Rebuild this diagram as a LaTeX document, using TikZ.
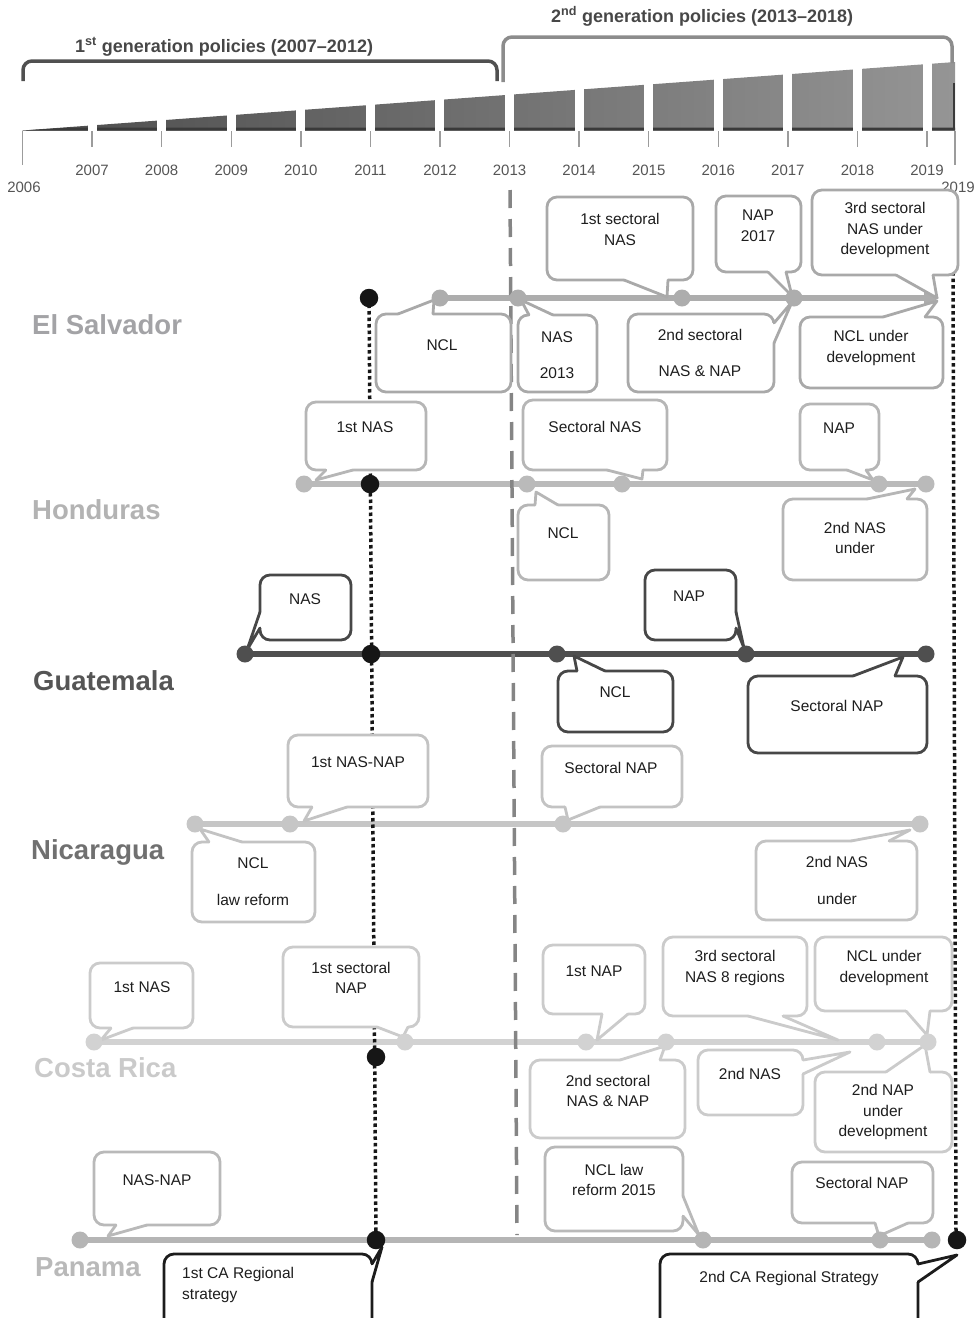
\documentclass[tikz,border=0pt]{standalone}
\usepackage{fontspec}
\setmainfont{Liberation Sans}
\usetikzlibrary{fit,calc,arrows.meta}

\definecolor{txt}{HTML}{1E1E1E}
\definecolor{yeargray}{HTML}{555555}
\definecolor{tickgray}{HTML}{9C9C9C}
\definecolor{braceA}{HTML}{505050}
\definecolor{braceB}{HTML}{8C8C8C}
\definecolor{hdrA}{HTML}{474747}
\definecolor{ribA}{HTML}{4C4C4C}
\definecolor{ribM}{HTML}{707070}
\definecolor{ribB}{HTML}{959595}
\definecolor{ribEdge}{HTML}{3A3A3A}
\definecolor{dashgray}{HTML}{858585}
\definecolor{kcol}{HTML}{161616}
% per-country colours: line, bubble border, label
\definecolor{lnES}{HTML}{ADADAD}\definecolor{bES}{HTML}{A9A9A9}\definecolor{cES}{HTML}{A3A3A6}
\definecolor{lnHN}{HTML}{BABABA}\definecolor{bHN}{HTML}{B6B6B6}\definecolor{cHN}{HTML}{B3B3B3}
\definecolor{lnGT}{HTML}{4F4F4F}\definecolor{bGT}{HTML}{474747}\definecolor{cGT}{HTML}{555555}
\definecolor{lnNI}{HTML}{C6C6C6}\definecolor{bNI}{HTML}{C3C3C3}\definecolor{cNI}{HTML}{707070}
\definecolor{lnCR}{HTML}{D2D2D2}\definecolor{bCR}{HTML}{CBCBCB}\definecolor{cCR}{HTML}{CACACA}
\definecolor{lnPA}{HTML}{B5B5B5}\definecolor{bPA}{HTML}{B9B9B9}\definecolor{cPA}{HTML}{B9B9B9}
\definecolor{bCA}{HTML}{1C1C1C}

\tikzset{
  bx/.style={draw=#1, fill=white, line width=2.8pt, rounded corners=10pt, inner sep=0pt, rectangle},
  tailln/.style={draw=#1, line width=2.8pt, line join=round, line cap=round},
  tx/.style={align=center, text=txt, inner sep=0pt, font=\fontsize{15.5}{20.5}\selectfont},
  tline/.style={draw=#1, line width=6pt},
  evt/.style={circle, fill=#1, inner sep=0pt, minimum size=17pt},
  kevt/.style={circle, fill=kcol, inner sep=0pt, minimum size=18.5pt},
  ctry/.style={anchor=base west, inner sep=0pt, text=#1, font=\fontsize{27.5}{30}\selectfont\bfseries},
  yr/.style={text=yeargray, inner sep=0pt, font=\fontsize{15}{18}\selectfont},
  hdr/.style={anchor=base west, inner sep=0pt, text=#1, font=\fontsize{18}{22}\selectfont\bfseries},
  kdot/.style={draw=kcol, line width=3.5pt, dash pattern=on 3.5pt off 3pt},
  dsh/.style={draw=dashgray, line width=3.5pt, dash pattern=on 18pt off 11pt},
}

% speech-bubble tail: colour, base point A, tip, base point B, inward offset
\newcommand{\bubtail}[5]{%
  \fill[white] ($#2+#5$) -- #2 -- #3 -- #4 -- ($#4+#5$) -- cycle;
  \draw[tailln=#1] #2 -- #3 -- #4;}

\begin{document}
\begin{tikzpicture}[x=1pt,y=-1pt]
\useasboundingbox (0,0) rectangle (976,1318);

% ---------------- time axis ----------------
\shade[left color=ribA, middle color=ribM, right color=ribB]
  (22.5,130.5) -- (955,62) -- (955,130.5) -- cycle;
\fill[ribEdge] (22.5,130.5) -- (70,127.6) -- (955,127.6) -- (955,130.5) -- cycle;
\draw[ribEdge, line width=2pt] (954,83) -- (954,130);
\foreach \i in {1,...,13}{
  \pgfmathsetmacro{\xx}{22.5+69.58*\i}
  \pgfmathtruncatemacro{\yy}{2006+\i}
  \fill[white] (\xx-4.5,50) rectangle (\xx+4.5,131);
  \draw[tickgray, line width=1.4pt] (\xx,131) -- (\xx,147);
  \node[yr] (yr\i) at (\xx,170.5) {\yy};
}
\draw[tickgray, line width=1.4pt] (22.5,131) -- (22.5,165);
\draw[tickgray, line width=1.4pt] (955,131) -- (955,165);
\node[yr] (yr0) at (24,187.5) {2006};
\node[yr] (yrEnd) at (958,187.5) {2019};

% generation brackets
\draw[braceA, line width=3.5pt, rounded corners=9pt] (23,81) -- (23,61) -- (497,61) -- (497,81);
\draw[braceB, line width=3.5pt, rounded corners=9pt] (503,82) -- (503,37) -- (952,37) -- (952,63);
\node[hdr=hdrA] (gen1) at (75,52) {1\textsuperscript{st} generation policies (2007–2012)};
\node[hdr=hdrA] (gen2) at (551,22) {2\textsuperscript{nd} generation policies (2013–2018)};

% ---------------- country labels ----------------
\node[ctry=cES] (lES) at (32,334) {El Salvador};
\node[ctry=cHN] (lHN) at (32,519) {Honduras};
\node[ctry=cGT] (lGT) at (33,690) {Guatemala};
\node[ctry=cNI] (lNI) at (31,859) {Nicaragua};
\node[ctry=cCR] (lCR) at (34,1077) {Costa Rica};
\node[ctry=cPA] (lPA) at (35,1276) {Panama};

% ---------------- event positions ----------------
\coordinate (esK) at (369,298);
\coordinate (es1) at (440,298); \coordinate (es2) at (518,298);
\coordinate (es3) at (682,298); \coordinate (es4) at (794,298);
\coordinate (esE) at (939,298);
\coordinate (hn1) at (304,484); \coordinate (hnK) at (370,484);
\coordinate (hn2) at (527,484); \coordinate (hn3) at (622,484);
\coordinate (hn4) at (879,484); \coordinate (hn5) at (926,484);
\coordinate (gt1) at (245,654); \coordinate (gtK) at (371,654);
\coordinate (gt2) at (557,654); \coordinate (gt3) at (746,654);
\coordinate (gt4) at (926,654);
\coordinate (ni1) at (195,824); \coordinate (ni2) at (290,824);
\coordinate (ni3) at (563,824); \coordinate (ni4) at (920,824);
\coordinate (cr1) at (94,1042); \coordinate (cr2) at (405,1042);
\coordinate (cr3) at (586,1042); \coordinate (cr4) at (666,1042);
\coordinate (cr5) at (877,1042); \coordinate (cr6) at (928,1042);
\coordinate (crK) at (376,1057);
\coordinate (pa1) at (80,1240); \coordinate (paK) at (376,1240);
\coordinate (pa2) at (703,1240); \coordinate (pa3) at (880,1240);
\coordinate (pa4) at (932,1240); \coordinate (paK2) at (957,1240);
\coordinate (dTop) at (510,190); \coordinate (dBot) at (517,1235);
\coordinate (rTop) at (953,272); \coordinate (rBot) at (956,1232);

% ---------------- timelines ----------------
\draw[tline=lnES, -{Triangle[length=15pt,width=17pt]}] (es1) -- (esE);
\draw[tline=lnHN] (hn1) -- (hn5);
\draw[tline=lnGT] (gt1) -- (gt4);
\draw[tline=lnNI] (ni1) -- (ni4);
\draw[tline=lnCR] (cr1) -- (cr6);
\draw[tline=lnPA] (pa1) -- (pa4);

% period divider and regional-strategy links
\draw[dsh] (dTop) -- (dBot);
\draw[kdot] (esK) -- (paK);
\draw[kdot] (rTop) -- (rBot);

% ---------------- El Salvador ----------------
\node[bx=bES, fit={(547,197) (693,280)}] (esB1) {};
\bubtail{bES}{(624,280)}{(667,297)}{(668,280)}{(0,-4)}
\node[tx] (esT1) at (620,229.5) {1st sectoral\\NAS};
\node[bx=bES, fit={(716,196) (801,272)}] (esB2) {};
\bubtail{bES}{(768,272)}{(792,296)}{(786,272)}{(0,-4)}
\node[tx] (esT2) at (758,225.5) {NAP\\2017};
\node[bx=bES, fit={(812,190) (958,275)}] (esB3) {};
\bubtail{bES}{(896,275)}{(937,298)}{(933,275)}{(0,-4)}
\node[tx] (esT3) at (885,230) {3rd sectoral\\NAS under\\development};
\node[bx=bES, fit={(376,314) (511,392)}] (esB4) {};
\bubtail{bES}{(398,314)}{(434,300)}{(433,314)}{(0,4)}
\node[tx] (esT4) at (442,345) {NCL};
\node[bx=bES, fit={(518,315) (597,392)}] (esB5) {};
\bubtail{bES}{(529,315)}{(521,300)}{(553,315)}{(0,4)}
\node[tx] (esT5) at (557,355) {NAS\\[16pt]2013};
\node[bx=bES, fit={(628,314) (774,392)}] (esB6) {};
\bubtail{bES}{(774,323)}{(792,302)}{(774,343)}{(-4,0)}
\node[tx] (esT6) at (700,352.5) {2nd sectoral\\[15.5pt]NAS \& NAP};
\node[bx=bES, fit={(800,317) (943,388)}] (esB7) {};
\bubtail{bES}{(883,317)}{(937,301)}{(925,317)}{(0,4)}
\node[tx] (esT7) at (871,348) {NCL under\\development};

% ---------------- Honduras ----------------
\node[bx=bHN, fit={(306,402) (426,470)}] (hnB1) {};
\bubtail{bHN}{(326,470)}{(316,480)}{(353,470)}{(0,-4)}
\node[tx] (hnT1) at (365,427) {1st NAS};
\node[bx=bHN, fit={(523,400) (667,470)}] (hnB2) {};
\bubtail{bHN}{(607,470)}{(642,479)}{(643,470)}{(0,-4)}
\node[tx] (hnT2) at (595,427) {Sectoral NAS};
\node[bx=bHN, fit={(800,404) (879,470)}] (hnB3) {};
\bubtail{bHN}{(847,470)}{(873,480)}{(866,470)}{(0,-4)}
\node[tx] (hnT3) at (839,428) {NAP};
\node[bx=bHN, fit={(518,505) (609,580)}] (hnB4) {};
\bubtail{bHN}{(535,505)}{(536,492)}{(558,505)}{(0,4)}
\node[tx] (hnT4) at (563,533) {NCL};
\node[bx=bHN, fit={(783,499) (927,580)}] (hnB5) {};
\bubtail{bHN}{(867,499)}{(915,489)}{(907,499)}{(0,4)}
\node[tx] (hnT5) at (855,538) {2nd NAS\\under};

% ---------------- Guatemala ----------------
\node[bx=bGT, fit={(260,575) (351,640)}] (gtB1) {};
\bubtail{bGT}{(260,612)}{(247,650)}{(260,628)}{(4,0)}
\node[tx] (gtT1) at (305,599) {NAS};
\node[bx=bGT, fit={(645,570) (736,640)}] (gtB2) {};
\bubtail{bGT}{(736,612)}{(744,648)}{(736,628)}{(-4,0)}
\node[tx] (gtT2) at (689,596) {NAP};
\node[bx=bGT, fit={(558,671) (673,732)}] (gtB3) {};
\bubtail{bGT}{(577,671)}{(574,656)}{(605,671)}{(0,4)}
\node[tx] (gtT3) at (615,692) {NCL};
\node[bx=bGT, fit={(748,676) (927,753)}] (gtB4) {};
\bubtail{bGT}{(853,676)}{(903,657)}{(895,676)}{(0,4)}
\node[tx] (gtT4) at (837,706) {Sectoral NAP};

% ---------------- Nicaragua ----------------
\node[bx=bNI, fit={(288,735) (428,807)}] (niB1) {};
\bubtail{bNI}{(312,807)}{(304,821)}{(347,807)}{(0,-4)}
\node[tx] (niT1) at (358,762) {1st NAS-NAP};
\node[bx=bNI, fit={(542,746) (682,807)}] (niB2) {};
\bubtail{bNI}{(565,807)}{(568,820)}{(600,807)}{(0,-4)}
\node[tx] (niT2) at (611,768) {Sectoral NAP};
\node[bx=bNI, fit={(192,842) (315,922)}] (niB3) {};
\bubtail{bNI}{(209,842)}{(200,829)}{(242,842)}{(0,4)}
\node[tx] (niT3) at (253,882) {NCL\\[16.5pt]law reform};
\node[bx=bNI, fit={(756,841) (917,920)}] (niB4) {};
\bubtail{bNI}{(851,841)}{(910,830)}{(889,841)}{(0,4)}
\node[tx] (niT4) at (837,880) {2nd NAS\\[16.5pt]under};

% ---------------- Costa Rica ----------------
\node[bx=bCR, fit={(90,963) (193,1028)}] (crB1) {};
\bubtail{bCR}{(111,1028)}{(101,1040)}{(133,1028)}{(0,-4)}
\node[tx] (crT1) at (142,987) {1st NAS};
\node[bx=bCR, fit={(283,947) (419,1027)}] (crB2) {};
\bubtail{bCR}{(377,1027)}{(403,1037)}{(408,1027)}{(0,-4)}
\node[tx] (crT2) at (351,978) {1st sectoral\\NAP};
\node[bx=bCR, fit={(543,945) (645,1014)}] (crB3) {};
\bubtail{bCR}{(602,1014)}{(597,1040)}{(628,1014)}{(0,-4)}
\node[tx] (crT3) at (594,971) {1st NAP};
\node[bx=bCR, fit={(663,937) (807,1016)}] (crB4) {};
\bubtail{bCR}{(748,1016)}{(838,1040)}{(783,1016)}{(0,-4)}
\node[tx] (crT4) at (735,968) {3rd sectoral\\NAS 8 regions};
\node[bx=bCR, fit={(815,937) (952,1011)}] (crB5) {};
\bubtail{bCR}{(906,1011)}{(927,1035)}{(930,1011)}{(0,-4)}
\node[tx] (crT5) at (884,968) {NCL under\\development};
\node[bx=bCR, fit={(530,1060) (685,1138)}] (crB6) {};
\bubtail{bCR}{(620,1060)}{(665,1046)}{(660,1060)}{(0,4)}
\node[tx] (crT6) at (608,1091) {2nd sectoral\\NAS \& NAP};
\node[bx=bCR, fit={(698,1050) (803,1115)}] (crB7) {};
\bubtail{bCR}{(803,1060)}{(850,1052)}{(803,1074)}{(-4,0)}
\node[tx] (crT7) at (750,1074) {2nd NAS};
\node[bx=bCR, fit={(815,1072) (952,1152)}] (crB8) {};
\bubtail{bCR}{(886,1072)}{(925,1045)}{(930,1072)}{(0,4)}
\node[tx] (crT8) at (883,1112) {2nd NAP\\under\\development};

% ---------------- Panama ----------------
\node[bx=bPA, fit={(94,1152) (220,1225)}] (paB1) {};
\bubtail{bPA}{(116,1225)}{(108,1236)}{(147,1225)}{(0,-4)}
\node[tx] (paT1) at (157,1180) {NAS-NAP};
\node[bx=bPA, fit={(545,1147) (683,1231)}] (paB2) {};
\bubtail{bPA}{(683,1196)}{(699,1235)}{(683,1216)}{(-4,0)}
\node[tx] (paT2) at (614,1180) {NCL law\\reform 2015};
\node[bx=bPA, fit={(792,1162) (933,1223)}] (paB3) {};
\bubtail{bPA}{(875,1223)}{(879,1236)}{(908,1223)}{(0,-4)}
\node[tx] (paT3) at (862,1183) {Sectoral NAP};

% regional strategies
\node[bx=bCA, fit={(164,1254) (372,1335)}] (caB1) {};
\bubtail{bCA}{(372,1264)}{(382,1247)}{(372,1282)}{(-4,0)}
\node[tx, align=left, anchor=west] (caT1) at (182,1285) {1st CA Regional\\strategy};
\node[bx=bCA, fit={(660,1254) (918,1335)}] (caB2) {};
\bubtail{bCA}{(918,1264)}{(957,1255)}{(918,1282)}{(-4,0)}
\node[tx] (caT2) at (789,1278) {2nd CA Regional Strategy};

% ---------------- event markers ----------------
\foreach \p in {es1,es2,es3,es4}{\node[evt=lnES] (\p d) at (\p) {};}
\foreach \p in {hn1,hn2,hn3,hn4,hn5}{\node[evt=lnHN] (\p d) at (\p) {};}
\foreach \p in {gt1,gt2,gt3,gt4}{\node[evt=lnGT] (\p d) at (\p) {};}
\foreach \p in {ni1,ni2,ni3,ni4}{\node[evt=lnNI] (\p d) at (\p) {};}
\foreach \p in {cr1,cr2,cr3,cr4,cr5,cr6}{\node[evt=lnCR] (\p d) at (\p) {};}
\foreach \p in {pa1,pa2,pa3,pa4}{\node[evt=lnPA] (\p d) at (\p) {};}
\foreach \p in {esK,hnK,gtK,crK,paK,paK2}{\node[kevt] (\p d) at (\p) {};}

\end{tikzpicture}
\end{document}
